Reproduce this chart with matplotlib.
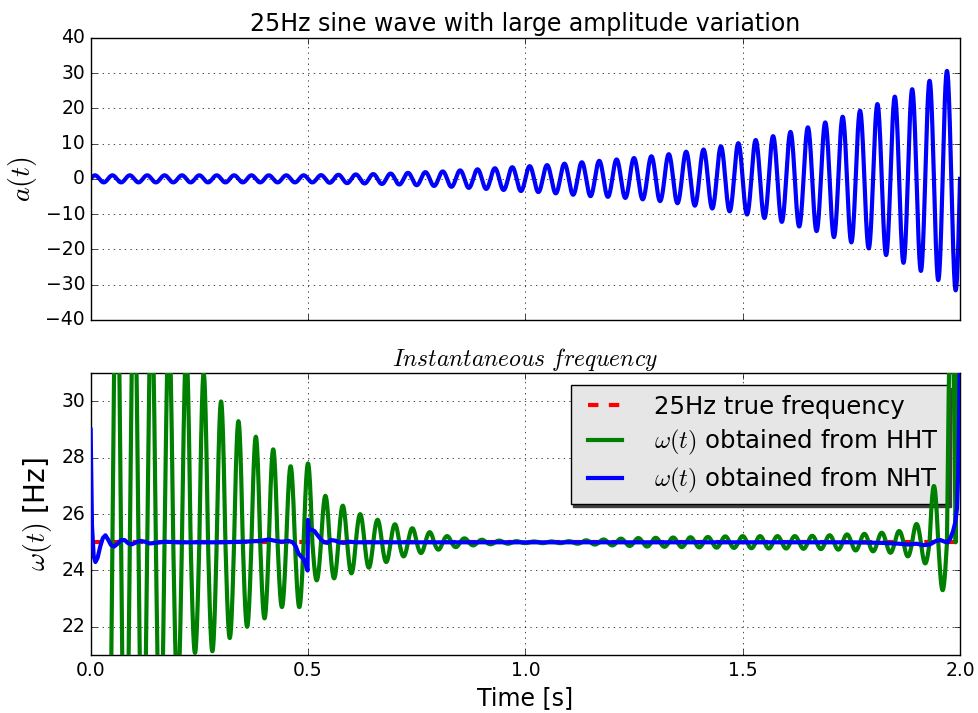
import numpy as np
import matplotlib
matplotlib.use('Agg')
import matplotlib.pyplot as plt

plt.style.use('classic')

# ---- data ----
freq_true = 25.0      # Hz, carrier frequency
t_end = 2.0

# signal envelope: peak (t = 0.01 + 0.04k) and trough (t = 0.03 + 0.04k) size per cycle
sig_peaks = [1.0, 1.0, 1.0, 1.0, 1.0, 1.0, 1.0, 1.0, 1.0, 1.0,
             1.0, 1.0, 1.0, 1.05, 1.15, 1.25, 1.35, 1.5, 1.7, 1.9,
             2.1, 2.4, 2.7, 3.0, 3.3, 3.6, 3.9, 4.3, 4.7, 5.1,
             5.5, 5.9, 6.4, 7.0, 7.7, 8.3, 9.2, 10.1, 11.0, 12.1,
             13.3, 14.6, 16.0, 17.6, 19.3, 21.2, 23.3, 25.4, 27.8, 30.6]
sig_troughs = [1.0, 1.0, 1.0, 1.0, 1.0, 1.0, 1.0, 1.0, 1.0, 1.0,
               1.0, 1.0, 1.0, 1.1, 1.2, 1.3, 1.45, 1.6, 1.8, 2.0,
               2.25, 2.55, 2.85, 3.15, 3.45, 3.75, 4.1, 4.5, 4.9, 5.1,
               5.4, 5.8, 6.3, 6.9, 7.6, 8.4, 9.2, 10.1, 11.1, 12.2,
               13.5, 14.8, 16.5, 18.0, 19.7, 21.6, 23.8, 26.1, 28.7, 31.6]

# HHT frequency: excursion above 25 Hz at t = 0.06 + 0.04k ...
hht_above = [10.5, 9.5, 8.5, 7.6, 6.8, 6.0, 5.0, 4.3, 3.75, 3.3,
             2.7, 2.8, 1.65, 1.3, 1.0, 0.8, 0.64, 0.5, 0.36, 0.22,
             0.14, 0.09, 0.06, 0.04, 0.03, 0.03, 0.04, 0.07, 0.1, 0.13,
             0.15, 0.16, 0.17, 0.18, 0.19, 0.21, 0.22, 0.22, 0.22, 0.22,
             0.23, 0.25, 0.28, 0.3, 0.34, 0.4, 0.65, 2.0, 9.0]
# ... and below 25 Hz at t = 0.04 + 0.04k (last one is still above)
hht_below = [11.0, 10.0, 9.0, 7.5, 5.5, 3.93, 3.87, 3.4, 3.0, 2.7,
             2.3, 2.3, 1.35, 1.28, 1.1, 0.9, 0.7, 0.5, 0.38, 0.26,
             0.17, 0.11, 0.07, 0.05, 0.03, 0.03, 0.03, 0.05, 0.08, 0.11,
             0.13, 0.15, 0.16, 0.17, 0.18, 0.19, 0.2, 0.21, 0.22, 0.22,
             0.23, 0.24, 0.26, 0.29, 0.32, 0.37, 0.5, 0.75, 1.7, -9.0]

# NHT frequency, read point by point
nht_t = [0.0, 0.003, 0.007, 0.011, 0.016, 0.022, 0.028, 0.034, 0.040, 0.047,
         0.054, 0.062, 0.070, 0.078, 0.086, 0.095, 0.105, 0.115, 0.125, 0.135,
         0.15, 0.17, 0.2, 0.25, 0.3, 0.35, 0.39, 0.41, 0.425, 0.44,
         0.455, 0.465, 0.472, 0.478, 0.484, 0.49, 0.495, 0.499, 0.5, 0.502,
         0.507, 0.515, 0.522, 0.53, 0.537, 0.545, 0.553, 0.562, 0.572, 0.582,
         0.595, 0.61, 0.65, 0.8, 1.0, 1.2, 1.4, 1.6, 1.75, 1.82,
         1.86, 1.88, 1.9, 1.915, 1.93, 1.945, 1.955, 1.965, 1.972, 1.978,
         1.984, 1.989, 1.993, 1.996, 1.998, 2.0]
nht_f = [29.0, 25.6, 24.5, 24.3, 24.45, 24.85, 25.15, 25.25, 25.1, 24.9,
         24.85, 24.95, 25.08, 25.08, 24.97, 24.93, 25.0, 25.05, 25.02, 24.96,
         24.98, 25.02, 25.0, 25.0, 25.0, 25.02, 25.05, 25.1, 25.05, 25.02,
         25.05, 25.0, 24.85, 24.6, 24.5, 24.4, 24.2, 24.0, 25.8, 25.45,
         25.45, 25.4, 25.25, 25.1, 25.0, 24.98, 25.08, 25.06, 25.0, 24.98,
         25.02, 25.0, 25.0, 25.0, 25.0, 25.0, 25.0, 25.0, 25.0, 24.98,
         24.95, 24.92, 24.95, 24.9, 24.92, 25.05, 25.08, 25.02, 25.0, 25.15,
         25.4, 25.7, 26.2, 27.5, 29.5, 32.0]

# ---- build the curves ----
t = np.linspace(0, t_end, 4001)
half = np.clip((t / 0.02).astype(int), 0, 99)
amp = np.where(half % 2 == 0, np.take(sig_peaks, half // 2), np.take(sig_troughs, half // 2))
signal = amp * np.sin(2 * np.pi * freq_true * t)

th = t[t >= 0.04]
j = np.clip(((th - 0.01) / 0.02).astype(int), 1, 99)
dev = np.where(j % 2 == 0, np.take(hht_above, np.maximum(j // 2 - 1, 0)),
               np.take(hht_below, j // 2))
hht = freq_true + dev * (-np.cos(2 * np.pi * freq_true * th))

# ---- figure ----
fig = plt.figure(figsize=(9.79, 7.13), dpi=100, facecolor='white')
ax1 = fig.add_axes([0.0926, 0.5512, 0.888, 0.3959])
ax2 = fig.add_axes([0.0926, 0.0814, 0.888, 0.3950])

ax1.plot(t, signal, 'b', linewidth=3)
ax1.set_xlim(0, t_end)
ax1.set_ylim(-40, 40)
ax1.set_xticks([0.0, 0.5, 1.0, 1.5, 2.0])
ax1.set_xticklabels([])
ax1.grid(True)
ax1.set_title('25Hz sine wave with large amplitude variation', fontsize=17)
ax1.set_ylabel(r'$a(t)$', fontsize=20)
ax1.tick_params(labelsize=13.5)

ax2.plot([0, t_end], [freq_true, freq_true], 'r--', linewidth=3, dashes=(7.5, 7.5),
         label='25Hz true frequency')
ax2.plot(th, hht, 'g', linewidth=3, zorder=3, label=r'$\omega(t)$ obtained from HHT')
ax2.plot(nht_t, nht_f, 'b', linewidth=3, zorder=3.1, label=r'$\omega(t)$ obtained from NHT')
ax2.set_xlim(0, t_end)
ax2.set_ylim(21, 31)
ax2.set_xticks([0.0, 0.5, 1.0, 1.5, 2.0])
ax2.set_yticks([22, 24, 26, 28, 30])
ax2.grid(True)
ax2.set_title(r'$Instantaneous\ frequency$', fontsize=17)
ax2.set_ylabel(r'$\omega(t)$ [Hz]', fontsize=20)
ax2.set_xlabel('Time [s]', fontsize=17)
ax2.tick_params(labelsize=13.5)

leg = ax2.legend(loc='upper right', fontsize=17.6, fancybox=False,
                 shadow={'color': '0.25', 'alpha': 1.0},
                 handlelength=2.0, handletextpad=1.0, borderpad=0.4, labelspacing=0.36,
                 borderaxespad=0.48)
leg.get_frame().set_facecolor('0.9')
leg.get_frame().set_edgecolor('black')
leg.set_zorder(2.8)

fig.savefig('out.png', dpi=100, facecolor='white')
